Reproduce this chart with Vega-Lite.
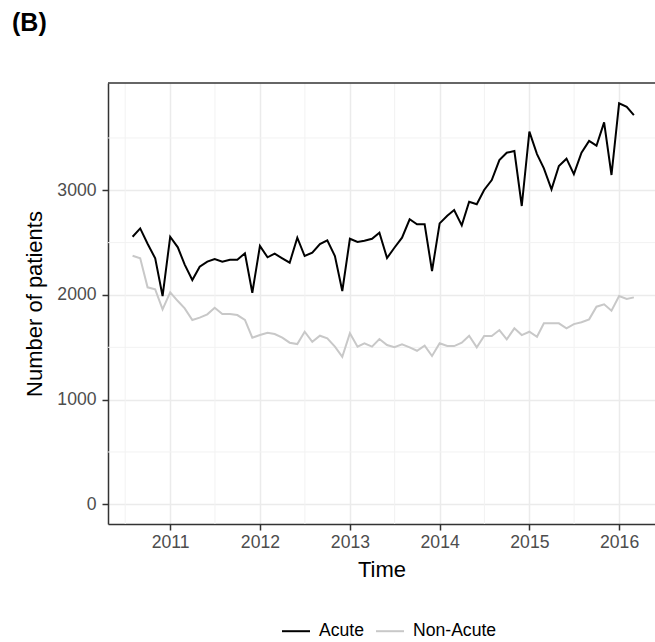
{
  "$schema": "https://vega.github.io/schema/vega-lite/v6.json",
  "width": 547,
  "height": 441,
  "autosize": {"type": "none"},
  "padding": {"left": 108, "top": 83, "right": 0, "bottom": 118},
  "background": "white",
  "title": {"text": "(B)", "fontSize": 25, "fontWeight": "bold", "color": "#000000", "anchor": "start", "frame": "group", "dx": -96, "offset": 46, "font": "Liberation Sans"},
  "config": {
    "font": "Liberation Sans",
    "view": {"stroke": null},
    "axis": {"labelFont": "Liberation Sans", "titleFont": "Liberation Sans"}
  },
  "datasets": {
    "series": [
      {"month":"2010/08/01","type":"Acute","patients":2556},
      {"month":"2010/09/01","type":"Acute","patients":2636},
      {"month":"2010/10/01","type":"Acute","patients":2490},
      {"month":"2010/11/01","type":"Acute","patients":2350},
      {"month":"2010/12/01","type":"Acute","patients":1990},
      {"month":"2011/01/01","type":"Acute","patients":2556},
      {"month":"2011/02/01","type":"Acute","patients":2455},
      {"month":"2011/03/01","type":"Acute","patients":2290},
      {"month":"2011/04/01","type":"Acute","patients":2143},
      {"month":"2011/05/01","type":"Acute","patients":2270},
      {"month":"2011/06/01","type":"Acute","patients":2318},
      {"month":"2011/07/01","type":"Acute","patients":2343},
      {"month":"2011/08/01","type":"Acute","patients":2318},
      {"month":"2011/09/01","type":"Acute","patients":2337},
      {"month":"2011/10/01","type":"Acute","patients":2337},
      {"month":"2011/11/01","type":"Acute","patients":2398},
      {"month":"2011/12/01","type":"Acute","patients":2021},
      {"month":"2012/01/01","type":"Acute","patients":2468},
      {"month":"2012/02/01","type":"Acute","patients":2360},
      {"month":"2012/03/01","type":"Acute","patients":2394},
      {"month":"2012/04/01","type":"Acute","patients":2350},
      {"month":"2012/05/01","type":"Acute","patients":2308},
      {"month":"2012/06/01","type":"Acute","patients":2547},
      {"month":"2012/07/01","type":"Acute","patients":2372},
      {"month":"2012/08/01","type":"Acute","patients":2404},
      {"month":"2012/09/01","type":"Acute","patients":2487},
      {"month":"2012/10/01","type":"Acute","patients":2522},
      {"month":"2012/11/01","type":"Acute","patients":2372},
      {"month":"2012/12/01","type":"Acute","patients":2038},
      {"month":"2013/01/01","type":"Acute","patients":2537},
      {"month":"2013/02/01","type":"Acute","patients":2506},
      {"month":"2013/03/01","type":"Acute","patients":2518},
      {"month":"2013/04/01","type":"Acute","patients":2537},
      {"month":"2013/05/01","type":"Acute","patients":2595},
      {"month":"2013/06/01","type":"Acute","patients":2353},
      {"month":"2013/07/01","type":"Acute","patients":2451},
      {"month":"2013/08/01","type":"Acute","patients":2547},
      {"month":"2013/09/01","type":"Acute","patients":2723},
      {"month":"2013/10/01","type":"Acute","patients":2675},
      {"month":"2013/11/01","type":"Acute","patients":2675},
      {"month":"2013/12/01","type":"Acute","patients":2229},
      {"month":"2014/01/01","type":"Acute","patients":2684},
      {"month":"2014/02/01","type":"Acute","patients":2757},
      {"month":"2014/03/01","type":"Acute","patients":2811},
      {"month":"2014/04/01","type":"Acute","patients":2665},
      {"month":"2014/05/01","type":"Acute","patients":2891},
      {"month":"2014/06/01","type":"Acute","patients":2866},
      {"month":"2014/07/01","type":"Acute","patients":3003},
      {"month":"2014/08/01","type":"Acute","patients":3098},
      {"month":"2014/09/01","type":"Acute","patients":3289},
      {"month":"2014/10/01","type":"Acute","patients":3359},
      {"month":"2014/11/01","type":"Acute","patients":3375},
      {"month":"2014/12/01","type":"Acute","patients":2850},
      {"month":"2015/01/01","type":"Acute","patients":3560},
      {"month":"2015/02/01","type":"Acute","patients":3346},
      {"month":"2015/03/01","type":"Acute","patients":3210},
      {"month":"2015/04/01","type":"Acute","patients":3009},
      {"month":"2015/05/01","type":"Acute","patients":3232},
      {"month":"2015/06/01","type":"Acute","patients":3302},
      {"month":"2015/07/01","type":"Acute","patients":3155},
      {"month":"2015/08/01","type":"Acute","patients":3359},
      {"month":"2015/09/01","type":"Acute","patients":3471},
      {"month":"2015/10/01","type":"Acute","patients":3426},
      {"month":"2015/11/01","type":"Acute","patients":3649},
      {"month":"2015/12/01","type":"Acute","patients":3146},
      {"month":"2016/01/01","type":"Acute","patients":3831},
      {"month":"2016/02/01","type":"Acute","patients":3798},
      {"month":"2016/03/01","type":"Acute","patients":3719},
      {"month":"2010/08/01","type":"Non-Acute","patients":2375},
      {"month":"2010/09/01","type":"Non-Acute","patients":2350},
      {"month":"2010/10/01","type":"Non-Acute","patients":2073},
      {"month":"2010/11/01","type":"Non-Acute","patients":2054},
      {"month":"2010/12/01","type":"Non-Acute","patients":1863},
      {"month":"2011/01/01","type":"Non-Acute","patients":2025},
      {"month":"2011/02/01","type":"Non-Acute","patients":1942},
      {"month":"2011/03/01","type":"Non-Acute","patients":1872},
      {"month":"2011/04/01","type":"Non-Acute","patients":1761},
      {"month":"2011/05/01","type":"Non-Acute","patients":1783},
      {"month":"2011/06/01","type":"Non-Acute","patients":1815},
      {"month":"2011/07/01","type":"Non-Acute","patients":1878},
      {"month":"2011/08/01","type":"Non-Acute","patients":1818},
      {"month":"2011/09/01","type":"Non-Acute","patients":1818},
      {"month":"2011/10/01","type":"Non-Acute","patients":1808},
      {"month":"2011/11/01","type":"Non-Acute","patients":1761},
      {"month":"2011/12/01","type":"Non-Acute","patients":1592},
      {"month":"2012/01/01","type":"Non-Acute","patients":1617},
      {"month":"2012/02/01","type":"Non-Acute","patients":1639},
      {"month":"2012/03/01","type":"Non-Acute","patients":1627},
      {"month":"2012/04/01","type":"Non-Acute","patients":1592},
      {"month":"2012/05/01","type":"Non-Acute","patients":1544},
      {"month":"2012/06/01","type":"Non-Acute","patients":1531},
      {"month":"2012/07/01","type":"Non-Acute","patients":1649},
      {"month":"2012/08/01","type":"Non-Acute","patients":1553},
      {"month":"2012/09/01","type":"Non-Acute","patients":1611},
      {"month":"2012/10/01","type":"Non-Acute","patients":1586},
      {"month":"2012/11/01","type":"Non-Acute","patients":1506},
      {"month":"2012/12/01","type":"Non-Acute","patients":1410},
      {"month":"2013/01/01","type":"Non-Acute","patients":1634},
      {"month":"2013/02/01","type":"Non-Acute","patients":1506},
      {"month":"2013/03/01","type":"Non-Acute","patients":1538},
      {"month":"2013/04/01","type":"Non-Acute","patients":1506},
      {"month":"2013/05/01","type":"Non-Acute","patients":1579},
      {"month":"2013/06/01","type":"Non-Acute","patients":1522},
      {"month":"2013/07/01","type":"Non-Acute","patients":1500},
      {"month":"2013/08/01","type":"Non-Acute","patients":1528},
      {"month":"2013/09/01","type":"Non-Acute","patients":1500},
      {"month":"2013/10/01","type":"Non-Acute","patients":1467},
      {"month":"2013/11/01","type":"Non-Acute","patients":1515},
      {"month":"2013/12/01","type":"Non-Acute","patients":1417},
      {"month":"2014/01/01","type":"Non-Acute","patients":1538},
      {"month":"2014/02/01","type":"Non-Acute","patients":1512},
      {"month":"2014/03/01","type":"Non-Acute","patients":1512},
      {"month":"2014/04/01","type":"Non-Acute","patients":1544},
      {"month":"2014/05/01","type":"Non-Acute","patients":1611},
      {"month":"2014/06/01","type":"Non-Acute","patients":1500},
      {"month":"2014/07/01","type":"Non-Acute","patients":1608},
      {"month":"2014/08/01","type":"Non-Acute","patients":1608},
      {"month":"2014/09/01","type":"Non-Acute","patients":1665},
      {"month":"2014/10/01","type":"Non-Acute","patients":1576},
      {"month":"2014/11/01","type":"Non-Acute","patients":1681},
      {"month":"2014/12/01","type":"Non-Acute","patients":1617},
      {"month":"2015/01/01","type":"Non-Acute","patients":1649},
      {"month":"2015/02/01","type":"Non-Acute","patients":1601},
      {"month":"2015/03/01","type":"Non-Acute","patients":1729},
      {"month":"2015/04/01","type":"Non-Acute","patients":1729},
      {"month":"2015/05/01","type":"Non-Acute","patients":1729},
      {"month":"2015/06/01","type":"Non-Acute","patients":1681},
      {"month":"2015/07/01","type":"Non-Acute","patients":1722},
      {"month":"2015/08/01","type":"Non-Acute","patients":1739},
      {"month":"2015/09/01","type":"Non-Acute","patients":1767},
      {"month":"2015/10/01","type":"Non-Acute","patients":1888},
      {"month":"2015/11/01","type":"Non-Acute","patients":1911},
      {"month":"2015/12/01","type":"Non-Acute","patients":1849},
      {"month":"2016/01/01","type":"Non-Acute","patients":1990},
      {"month":"2016/02/01","type":"Non-Acute","patients":1961},
      {"month":"2016/03/01","type":"Non-Acute","patients":1977}
    ],
    "minorX": [
      {"month":"2010/07/02"},{"month":"2011/07/02"},{"month":"2012/07/02"},{"month":"2013/07/02"},{"month":"2014/07/02"},{"month":"2015/07/02"}
    ],
    "minorY": [
      {"patients":500},{"patients":1500},{"patients":2500},{"patients":3500}
    ],
    "border": [{"edge": "top"}]
  },
  "layer": [
    {
      "data": {"name": "minorX"},
      "mark": {"type": "rule", "color": "#f2f2f2", "strokeWidth": 1},
      "encoding": {"x": {"field": "month", "type": "temporal"}}
    },
    {
      "data": {"name": "minorY"},
      "mark": {"type": "rule", "color": "#f2f2f2", "strokeWidth": 1},
      "encoding": {"y": {"field": "patients", "type": "quantitative"}}
    },
    {
      "data": {"name": "series"},
      "mark": {"type": "line", "strokeWidth": 2, "clip": true},
      "encoding": {
        "x": {
          "field": "month", "type": "temporal",
          "scale": {"domain": [{"year": 2010, "month": 4, "date": 23}, {"year": 2016, "month": 5, "date": 26}], "nice": false},
          "axis": {
            "title": "Time", "titleFontSize": 22, "titleFontWeight": "normal", "titleColor": "#000000", "titlePadding": 9,
            "values": [{"year": 2011}, {"year": 2012}, {"year": 2013}, {"year": 2014}, {"year": 2015}, {"year": 2016}],
            "format": "%Y", "labelFontSize": 17.6, "labelColor": "#4d4d4d", "labelPadding": 3, "labelFlush": false, "labelOverlap": false,
            "tickColor": "#333333", "tickSize": 6, "tickWidth": 1.5,
            "domain": true, "domainColor": "#333333", "domainWidth": 1.5,
            "grid": true, "gridColor": "#ebebeb", "gridWidth": 1.5
          }
        },
        "y": {
          "field": "patients", "type": "quantitative",
          "scale": {"domain": [-188, 4025], "nice": false, "zero": false},
          "axis": {
            "title": "Number of patients", "titleFontSize": 22, "titleFontWeight": "normal", "titleColor": "#000000", "titlePadding": 10,
            "values": [0, 1000, 2000, 3000], "format": "d", "labelFontSize": 17.6, "labelColor": "#4d4d4d", "labelPadding": 6,
            "tickColor": "#333333", "tickSize": 6, "tickWidth": 1.5,
            "domain": true, "domainColor": "#333333", "domainWidth": 1.5,
            "grid": true, "gridColor": "#ebebeb", "gridWidth": 1.5
          }
        },
        "color": {
          "field": "type", "type": "nominal",
          "scale": {"domain": ["Acute", "Non-Acute"], "range": ["#000000", "#c8c8c8"]},
          "legend": {
            "title": null, "orient": "none", "legendX": 173, "legendY": 533, "direction": "horizontal", "columns": 2,
            "symbolType": "stroke", "symbolSize": 784, "symbolStrokeWidth": 2, "labelFontSize": 17.6, "labelColor": "#000000",
            "labelOffset": 8, "columnPadding": 8, "labelFont": "Liberation Sans"
          }
        }
      }
    },
    {
      "data": {"name": "border"},
      "mark": {"type": "rule", "color": "#333333", "strokeWidth": 1.5, "clip": false},
      "encoding": {"y": {"datum": 4025}}
    }
  ]
}
